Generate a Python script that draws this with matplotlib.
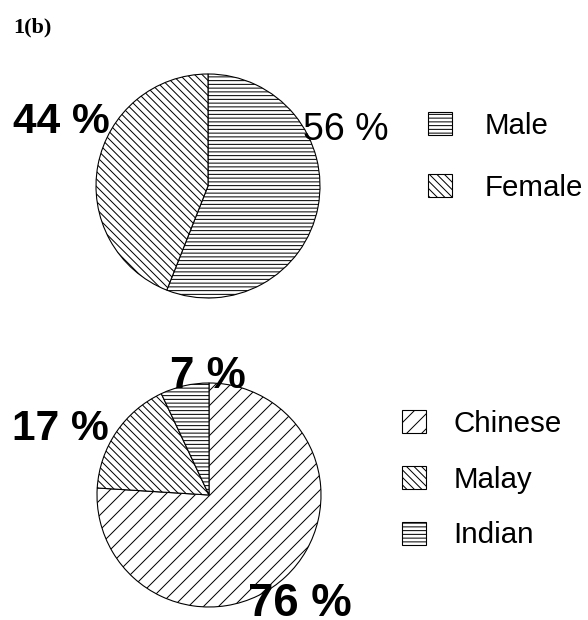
import matplotlib
matplotlib.use('Agg')
import matplotlib.pyplot as plt

# ---- data ----
title_text = '1(b)'
gender_labels = ['Male', 'Female']
gender_values = [56, 44]
gender_pct_text = ['56 %', '44 %']
race_labels = ['Chinese', 'Malay', 'Indian']
race_values = [76, 17, 7]
race_pct_text = ['76 %', '17 %', '7 %']

W, H = 588, 620
DPI = 45  # chosen so that hatch spacing matches the reference


def pt(px):
    """convert pixel size to points at the figure dpi"""
    return px * 72.0 / DPI


plt.rcParams['hatch.linewidth'] = pt(1.0)
plt.rcParams['font.family'] = ['Liberation Sans', 'DejaVu Sans']

fig = plt.figure(figsize=(W / DPI, H / DPI), dpi=DPI)


def fx(px):
    return px / W


def fy(py):
    return 1 - py / H


def pie_axes(cx, cy, r):
    return fig.add_axes([fx(cx - r), fy(cy + r), 2 * r / W, 2 * r / H])


wp = dict(edgecolor='black', linewidth=pt(1.1), clip_on=False)
LEG_FS = pt(29.5)

# ---- top pie: gender ----
ax1 = pie_axes(208, 186, 112)
w1, _ = ax1.pie(gender_values, startangle=90, counterclock=False,
                colors=['white', 'white'], hatch=['--', '\\\\'],
                wedgeprops=wp)
ax1.set_xlim(-1, 1)
ax1.set_ylim(-1, 1)
ax1.legend(w1, gender_labels, loc='upper left',
           bbox_to_anchor=(fx(428), fy(112)), bbox_transform=fig.transFigure,
           frameon=False, fontsize=LEG_FS, handlelength=0.82, handleheight=0.82,
           handletextpad=1.1, labelspacing=1.14, borderpad=0, borderaxespad=0)

# ---- bottom pie: race ----
ax2 = pie_axes(209, 495, 112)
w2, _ = ax2.pie(race_values, startangle=90, counterclock=False,
                colors=['white', 'white', 'white'],
                hatch=['/', '\\\\', '--'], wedgeprops=wp)
ax2.set_xlim(-1, 1)
ax2.set_ylim(-1, 1)
ax2.legend(w2, race_labels, loc='upper left',
           bbox_to_anchor=(fx(402), fy(410)), bbox_transform=fig.transFigure,
           frameon=False, fontsize=LEG_FS, handlelength=0.82, handleheight=0.82,
           handletextpad=0.92, labelspacing=0.94, borderpad=0, borderaxespad=0)

# ---- percentage labels ----
fig.text(fx(303), fy(140), gender_pct_text[0], fontsize=pt(37.5),
         ha='left', va='baseline')
fig.text(fx(13), fy(133), gender_pct_text[1], fontsize=pt(42.5),
         fontweight='bold', ha='left', va='baseline')
fig.text(fx(248), fy(616), race_pct_text[0], fontsize=pt(45.5),
         fontweight='bold', ha='left', va='baseline')
fig.text(fx(12), fy(440), race_pct_text[1], fontsize=pt(42.5),
         fontweight='bold', ha='left', va='baseline')
fig.text(fx(170), fy(388), race_pct_text[2], fontsize=pt(44),
         fontweight='bold', ha='left', va='baseline')

# ---- title ----
fig.text(fx(13), fy(32), title_text, fontsize=pt(22.2), fontweight='bold',
         family=['Liberation Serif', 'DejaVu Serif'], ha='left', va='baseline')

fig.savefig('out.png', dpi=DPI)
